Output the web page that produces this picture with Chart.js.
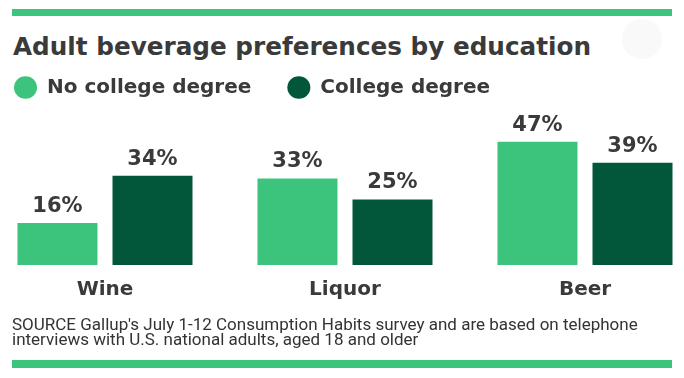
<!DOCTYPE html>
<html>
<head>
<meta charset="utf-8">
<script src="https://cdn.jsdelivr.net/npm/chart.js@4/dist/chart.umd.min.js"></script>
<style>
  html, body { margin: 0; padding: 0; background: #ffffff; }
  #wrap { position: relative; width: 684px; height: 378px; overflow: hidden; background: #ffffff; }
  #c { position: absolute; left: 0; top: 0; }
  .rule { position: absolute; left: 12px; width: 660px; background: #3cc47c; }
  #title { position: absolute; left: 13px; top: 34px; font-family: "DejaVu Sans", sans-serif; font-weight: bold;
           font-size: 24.7px; line-height: 25px; color: #3a3a3a; white-space: nowrap; }
  #source { position: absolute; left: 12px; top: 316.6px; font-family: "Liberation Sans Narrow", "Roboto", sans-serif;
            font-size: 17px; line-height: 15px; color: #333333; white-space: nowrap; }
  #dots { position: absolute; left: 622px; top: 19px; width: 40px; height: 40px; border-radius: 50%; background: #f9f9f9; }
</style>
</head>
<body>
<div id="wrap">
  <div class="rule" style="top:9px;height:7px;"></div>
  <div id="dots"></div>
  <div id="title">Adult beverage preferences by education</div>
  <canvas id="c" width="684" height="378"></canvas>
  <div id="source">SOURCE Gallup's July 1-12 Consumption Habits survey and are based on telephone<br>interviews with U.S. national adults, aged 18 and older</div>
  <div class="rule" style="top:360px;height:8px;"></div>
</div>
<script>
const categories = ["Wine", "Liquor", "Beer"];
const seriesNames = ["No college degree", "College degree"];
const noCollege = [16, 33, 47];
const college = [34, 25, 39];

const LIGHT = "#3cc47c";
const DARK = "#02563a";
const TEXT = "#3a3a3a";

const valueLabels = {
  id: "valueLabels",
  afterDatasetsDraw(chart) {
    const ctx = chart.ctx;
    ctx.save();
    ctx.font = "bold 21px 'DejaVu Sans', sans-serif";
    ctx.fillStyle = TEXT;
    ctx.textAlign = "center";
    ctx.textBaseline = "alphabetic";
    chart.data.datasets.forEach((ds, di) => {
      const meta = chart.getDatasetMeta(di);
      meta.data.forEach((bar, i) => {
        ctx.fillText(ds.data[i] + "%", bar.x, bar.y - 11);
      });
    });
    ctx.restore();
  }
};

new Chart(document.getElementById("c"), {
  type: "bar",
  data: {
    labels: categories,
    datasets: [
      { label: seriesNames[0], data: noCollege, backgroundColor: LIGHT, borderWidth: 0,
        categoryPercentage: 190 / 240, barPercentage: 80 / 95, clip: false },
      { label: seriesNames[1], data: college, backgroundColor: DARK, borderWidth: 0,
        categoryPercentage: 190 / 240, barPercentage: 80 / 95, clip: false }
    ]
  },
  options: {
    responsive: false,
    devicePixelRatio: 1,
    animation: false,
    layout: { padding: { left: -22, right: 99, top: 41.5, bottom: 0 } },
    plugins: {
      title: { display: false },
      tooltip: { enabled: false },
      legend: {
        display: true,
        position: "top",
        align: "start",
        labels: {
          usePointStyle: true,
          pointStyle: "circle",
          boxHeight: 16,
          pointStyleWidth: 23,
          padding: 36,
          color: TEXT,
          font: { family: "'DejaVu Sans', sans-serif", weight: "bold", size: 20 }
        }
      }
    },
    scales: {
      x: {
        type: "category",
        offset: false,
        grid: { display: false, drawTicks: false },
        border: { display: false },
        ticks: {
          color: TEXT,
          padding: 13,
          maxRotation: 0,
          font: { family: "'DejaVu Sans', sans-serif", weight: "bold", size: 20 }
        },
        afterFit(scale) { scale.height = 113; }
      },
      y: {
        min: 0,
        max: 60,
        grid: { display: false, drawTicks: false },
        border: { display: false },
        ticks: { display: false },
        afterFit(scale) { scale.width = 127; }
      }
    }
  },
  plugins: [valueLabels]
});
</script>
</body>
</html>
